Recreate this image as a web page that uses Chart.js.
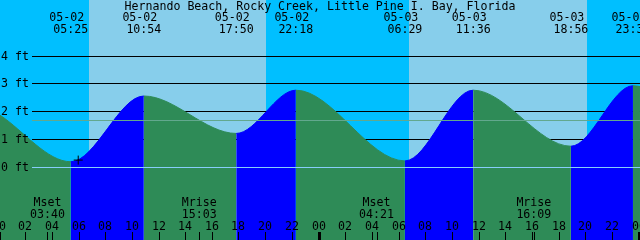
<!DOCTYPE html>
<html>
<head>
<meta charset="utf-8">
<script src="https://cdn.jsdelivr.net/npm/chart.js@4"></script>
<style>
html, body { margin: 0; padding: 0; background: #00bfff; }
#wrap { width: 640px; height: 240px; }
</style>
</head>
<body>
<div id="wrap"><canvas id="chart"></canvas></div>
<script>
const title = 'Hernando Beach, Rocky Creek, Little Pine I. Bay, Florida';

// hours counted from 05-02 00:00
const tideHours = [0.11, 5.42, 10.9, 17.83, 22.3, 30.48, 35.6, 42.93, 47.58, 48.11];
const tideLevels = [1.87, 0.19, 2.56, 1.21, 2.77, 0.22, 2.77, 0.75, 2.93, 2.9];
const eventDates = ['05-02', '05-02', '05-02', '05-02', '05-03', '05-03', '05-03', '05-03'];
const eventTimes = ['05:25', '10:54', '17:50', '22:18', '06:29', '11:36', '18:56', '23:35'];

const sunRise = [6.79, 30.79];
const sunSet = [20.07, 44.12];

const moonNames = ['Mset', 'Mrise', 'Mset', 'Mrise'];
const moonTimes = ['03:40', '15:03', '04:21', '16:09'];
const moonHours = [3.67, 15.05, 28.35, 40.15];

const hourLabels = ['00', '02', '04', '06', '08', '10', '12', '14', '16', '18', '20', '22',
                    '00', '02', '04', '06', '08', '10', '12', '14', '16', '18', '20', '22', '00'];
const levelLabels = ['0 ft', '1 ft', '2 ft', '3 ft', '4 ft'];
const meanLevel = 1.68;
const nowHour = 5.98;
const nowLevel = 0.25;

const FONT = '11.6px "DejaVu Sans Mono", "Liberation Mono", monospace';
const rising = c => c.p1.parsed.y > c.p0.parsed.y ? '#0000ff' : '#2e8b57';

const tidePlugin = {
    id: 'tide',
    beforeDatasetsDraw(chart) {
        const { ctx, chartArea: a, scales: { x, y } } = chart;
        ctx.save();
        ctx.fillStyle = '#00bfff';
        ctx.fillRect(a.left, a.top, a.width, a.height);
        ctx.fillStyle = '#87ceeb';
        sunRise.forEach((r, i) => {
            const x0 = Math.round(x.getPixelForValue(r));
            const x1 = Math.round(x.getPixelForValue(sunSet[i]));
            ctx.fillRect(x0, a.top, x1 - x0, a.height);
        });
        // level lines sit behind the water
        ctx.strokeStyle = '#000';
        ctx.lineWidth = 1;
        for (let v = 1; v < levelLabels.length; v++) {
            const py = Math.floor(y.getPixelForValue(v)) + 0.5;
            ctx.beginPath();
            ctx.moveTo(32, py);
            ctx.lineTo(a.right, py);
            ctx.stroke();
        }
        ctx.restore();
    },
    afterDatasetsDraw(chart) {
        const { ctx, chartArea: a, scales: { x, y } } = chart;
        ctx.save();
        ctx.lineWidth = 1;

        // zero and mean lines
        let py = Math.floor(y.getPixelForValue(0)) + 0.5;
        ctx.strokeStyle = '#87cefa';
        ctx.beginPath(); ctx.moveTo(32, py); ctx.lineTo(a.right, py); ctx.stroke();
        py = Math.floor(y.getPixelForValue(meanLevel)) + 0.5;
        ctx.strokeStyle = '#62a88e';
        ctx.beginPath(); ctx.moveTo(32, py); ctx.lineTo(a.right, py); ctx.stroke();

        ctx.font = FONT;
        ctx.fillStyle = '#000';

        // level labels
        ctx.textAlign = 'left';
        levelLabels.forEach((t, v) => {
            ctx.fillText(t, 1, Math.floor(y.getPixelForValue(v)) + 4);
        });

        // title and tide events
        ctx.textAlign = 'center';
        ctx.fillText(title, 320, 10);
        eventTimes.forEach((t, i) => {
            const px = x.getPixelForValue(tideHours[i + 1]);
            ctx.fillText(eventDates[i], px - 4, 21);
            ctx.fillText(t, px, 33);
        });

        // moon events
        moonNames.forEach((m, i) => {
            const px = x.getPixelForValue(moonHours[i]);
            ctx.fillText(m, px, 206);
            ctx.fillText(moonTimes[i], px, 218);
        });

        // hour axis
        hourLabels.forEach((t, i) => {
            const h = i * 2;
            const px = Math.round(x.getPixelForValue(h));
            ctx.fillText(t, px, 230);
            if (h % 24 === 0) {
                ctx.fillRect(px - 1, 232, 3, 8);
            } else {
                ctx.fillRect(px, 232, 1, 8);
            }
        });
        moonHours.forEach(h => {
            ctx.fillRect(Math.round(x.getPixelForValue(h)), 232, 1, 8);
        });
        ctx.restore();
    }
};

new Chart(document.getElementById('chart').getContext('2d'), {
    type: 'line',
    data: {
        datasets: [{
            data: [{ x: nowHour, y: nowLevel }],
            showLine: false,
            pointStyle: 'cross',
            pointRadius: 4.5,
            borderColor: '#000',
            borderWidth: 1,
            order: 0
        }, {
            data: tideHours.map((h, i) => ({ x: h, y: tideLevels[i] })),
            fill: 'start',
            cubicInterpolationMode: 'monotone',
            pointRadius: 0,
            borderWidth: 1,
            backgroundColor: '#2e8b57',
            borderColor: '#2e8b57',
            segment: {
                backgroundColor: rising,
                borderColor: rising
            },
            order: 1
        }]
    },
    options: {
        responsive: true,
        maintainAspectRatio: false,
        animation: false,
        layout: { padding: 0, autoPadding: false },
        plugins: {
            legend: { display: false },
            tooltip: { enabled: false }
        },
        scales: {
            x: { type: 'linear', min: 0.1125, max: 48.1125, display: false },
            y: { min: -2.63, max: 6.02, display: false }
        }
    },
    plugins: [tidePlugin]
});
</script>
</body>
</html>
